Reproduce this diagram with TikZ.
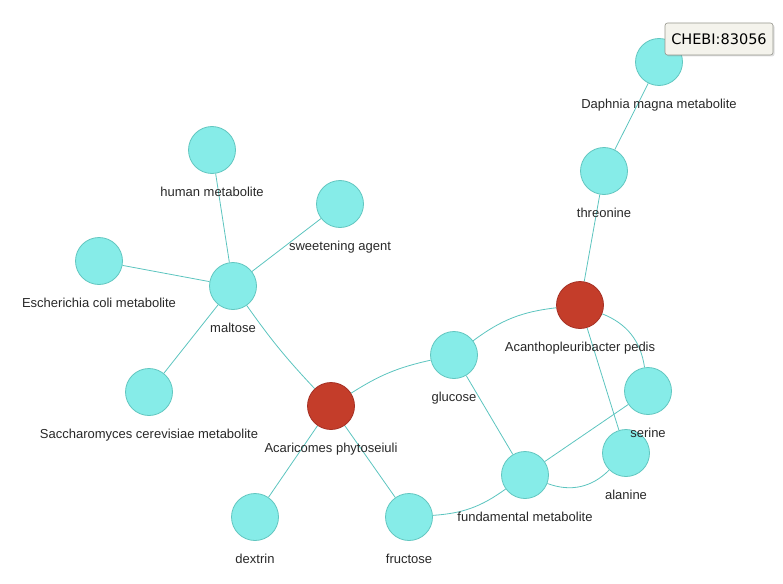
\documentclass[tikz,border=0pt]{standalone}
\usepackage{fontspec}
\setmainfont{Liberation Sans}
\newfontfamily\tipfont{DejaVu Sans}
\usetikzlibrary{shapes,arrows,positioning,shadows,backgrounds}

\definecolor{termfill}{RGB}{134,236,232}
\definecolor{termline}{RGB}{98,198,192}
\definecolor{taxfill}{RGB}{196,61,42}
\definecolor{taxline}{RGB}{165,48,36}
\definecolor{linkcol}{RGB}{92,196,191}
\definecolor{labelcol}{RGB}{40,40,40}
\definecolor{tipfill}{RGB}{244,243,236}
\definecolor{tipline}{RGB}{150,150,142}

\begin{document}
\begin{tikzpicture}[x=1pt, y=-1pt, thick]

\tikzstyle{lbl}=[text=labelcol, font=\fontsize{13}{15}\selectfont, inner sep=0pt, text height=10pt, text depth=3pt, label distance=12.5pt]
\tikzstyle{term}=[circle, draw=termline, fill=termfill, line width=0.8pt, minimum size=47pt, inner sep=0pt]
\tikzstyle{taxon}=[circle, draw=taxline, fill=taxfill, line width=0.8pt, minimum size=47pt, inner sep=0pt]
\tikzstyle{link}=[draw=linkcol, line width=0.8pt]

\useasboundingbox (0,0) rectangle (783,583);

\node[taxon, label={[lbl]below:Acanthopleuribacter pedis}] (Acantho) at (580,305) {};
\node[taxon, label={[lbl]below:Acaricomes phytoseiuli}] (Acari) at (331,406) {};
\node[term, label={[lbl]below:Daphnia magna metabolite}] (Daphnia) at (659,62) {};
\node[term, label={[lbl]below:threonine}] (Threonine) at (604,171) {};
\node[term, label={[lbl]below:human metabolite}] (Human) at (212,150) {};
\node[term, label={[lbl]below:sweetening agent}] (Sweet) at (340,204) {};
\node[term, label={[lbl]below:Escherichia coli metabolite}] (Ecoli) at (99,261) {};
\node[term, label={[lbl]below:maltose}] (Maltose) at (233,286) {};
\node[term, label={[lbl]below:Saccharomyces cerevisiae metabolite}] (Sacch) at (149,392) {};
\node[term, label={[lbl]below:glucose}] (Glucose) at (454,355) {};
\node[term, label={[lbl]below:fundamental metabolite}] (Fund) at (525,475) {};
\node[term, label={[lbl]below:alanine}] (Alanine) at (626,453) {};
\node[term, label={[lbl]below:serine}] (Serine) at (648,391) {};
\node[term, label={[lbl]below:dextrin}] (Dextrin) at (255,517) {};
\node[term, label={[lbl]below:fructose}] (Fructose) at (409,517) {};

% links go underneath the circles and their labels
\begin{scope}[on background layer]
\path[link]
(Daphnia) edge (Threonine)
(Threonine) edge (Acantho)
(Human) edge (Maltose)
(Sweet) edge (Maltose)
(Ecoli) edge (Maltose)
(Sacch) edge (Maltose)
(Maltose) edge[bend right=4] (Acari)
(Acari) edge[bend left=10] (Glucose)
(Acari) edge (Dextrin)
(Acari) edge (Fructose)
(Fructose) edge[bend right=16] (Fund)
(Glucose) edge (Fund)
(Glucose) edge[bend left=15] (Acantho)
(Acantho) edge[bend left=30] (Serine)
(Acantho) edge (Alanine)
(Serine) edge (Fund)
(Fund) edge[bend right=33] (Alanine);
\end{scope}

\node[draw=tipline, fill=tipfill, rounded corners=2.5pt, line width=0.6pt,
  minimum width=108pt, minimum height=32pt, inner sep=0pt,
  drop shadow={shadow xshift=1.5pt, shadow yshift=-1.5pt, opacity=0.25},
  font=\tipfont\fontsize{14.5}{17}\selectfont, text=black] (Tip) at (719,39) {CHEBI:83056};

\end{tikzpicture}
\end{document}
